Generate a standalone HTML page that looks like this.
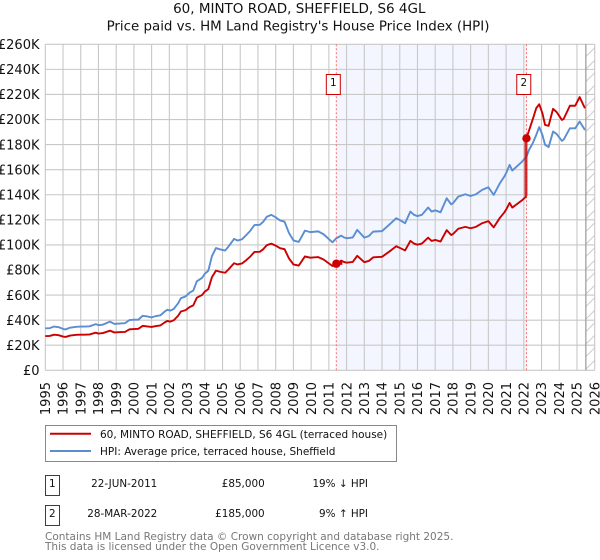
<!DOCTYPE html>
<html>
<head>
<meta charset="utf-8">
<style>
html,body{margin:0;padding:0;background:#fff;}
svg{display:block;font-family:"DejaVu Sans","Liberation Sans",sans-serif;}
</style>
</head>
<body>
<svg id="chart" xmlns="http://www.w3.org/2000/svg" width="600" height="560" viewBox="0 0 600 560">
  <defs>
    <pattern id="hatch" width="12.5" height="12.5" patternUnits="userSpaceOnUse" patternTransform="translate(586 44)">
      <line x1="0" y1="12.5" x2="12.5" y2="0" stroke="#ccc" stroke-width="1"/>
    </pattern>
  </defs>
  <text x="299.3" y="13" font-size="13.5" text-anchor="middle" fill="#111">60, MINTO ROAD, SHEFFIELD, S6 4GL</text>
  <text x="298" y="30.5" font-size="13.4" text-anchor="middle" fill="#111">Price paid vs. HM Land Registry's House Price Index (HPI)</text>
  <g id="plot"></g>

  <g>
    <rect x="45.5" y="425.5" width="351" height="36" fill="#fff" stroke="#888" stroke-width="1"/>
    <line x1="50" y1="433.7" x2="91" y2="433.7" stroke="#cc0000" stroke-width="2"/>
    <text x="100" y="438" font-size="10.5" fill="#111">60, MINTO ROAD, SHEFFIELD, S6 4GL (terraced house)</text>
    <line x1="50" y1="451" x2="91" y2="451" stroke="#5b8dd3" stroke-width="2"/>
    <text x="100" y="455" font-size="10.5" fill="#111">HPI: Average price, terraced house, Sheffield</text>
  </g>

  <g font-size="10.4" fill="#111">
    <rect x="45.5" y="475.5" width="14" height="20" fill="#fff" stroke="#cc0000" stroke-width="1"/>
    <text x="52.3" y="487" text-anchor="middle">1</text>
    <text x="157.3" y="487" text-anchor="end">22-JUN-2011</text>
    <text x="264.7" y="487" text-anchor="end">£85,000</text>
    <text x="368" y="487" text-anchor="end">19% ↓ HPI</text>
    <rect x="45.5" y="505.5" width="14" height="20" fill="#fff" stroke="#cc0000" stroke-width="1"/>
    <text x="52.3" y="517" text-anchor="middle">2</text>
    <text x="157.3" y="517" text-anchor="end">28-MAR-2022</text>
    <text x="264.7" y="517" text-anchor="end">£185,000</text>
    <text x="368" y="517" text-anchor="end">9% ↑ HPI</text>
  </g>

  <text x="45" y="540" font-size="10.5" fill="#777">Contains HM Land Registry data © Crown copyright and database right 2025.</text>
  <text x="45" y="550" font-size="10.5" fill="#777">This data is licensed under the Open Government Licence v3.0.</text>
</svg>
<script>
const yTickValues = [0,20,40,60,80,100,120,140,160,180,200,220,240,260];
const yTickLabels = ["£0","£20K","£40K","£60K","£80K","£100K","£120K","£140K","£160K","£180K","£200K","£220K","£240K","£260K"];
const xTickYears = [1995,1996,1997,1998,1999,2000,2001,2002,2003,2004,2005,2006,2007,2008,2009,2010,2011,2012,2013,2014,2015,2016,2017,2018,2019,2020,2021,2022,2023,2024,2025,2026];
const years = [1995,1995.25,1995.5,1995.75,1996,1996.15,1996.4,1996.75,1997,1997.25,1997.5,1997.85,1998,1998.25,1998.65,1998.9,1999.25,1999.5,1999.75,2000,2000.25,2000.5,2000.75,2001,2001.25,2001.5,2001.75,2001.9,2002.05,2002.25,2002.5,2002.65,2002.9,2003.15,2003.35,2003.55,2003.85,2004,2004.1,2004.2,2004.4,2004.63,2004.85,2005.15,2005.35,2005.65,2005.85,2006.1,2006.35,2006.55,2006.8,2007.1,2007.3,2007.5,2007.75,2008,2008.25,2008.5,2008.75,2009,2009.3,2009.65,2009.95,2010.4,2010.7,2011.2,2011.42,2011.7,2011.85,2012,2012.35,2012.6,2013,2013.25,2013.5,2014,2014.5,2014.8,2015.1,2015.3,2015.6,2015.8,2016,2016.25,2016.6,2016.8,2017,2017.3,2017.65,2017.9,2018,2018.3,2018.7,2019,2019.3,2019.65,2020,2020.3,2020.65,2020.9,2021,2021.2,2021.35,2021.6,2021.9,2022.15,2022.3,2022.5,2022.7,2022.87,2023.05,2023.2,2023.4,2023.65,2023.85,2024.15,2024.25,2024.6,2024.9,2025.15,2025.45];
const hpiValues = [33.5,33.6,34.9,34.4,33,32.6,34,34.7,34.9,34.9,35.1,36.8,36,36.4,38.8,37,37.4,37.6,40.1,40.4,40.4,43.5,43,42.2,43.3,43.9,47,48.3,47.6,49,53.5,57.5,58.8,62,63.6,71,73.8,77,78.2,79.5,91,97.5,96.5,95.5,99,104.8,103.5,104.5,108,111,115.8,116,118.5,122.5,124,122,119.5,118.5,109.5,103.6,102.4,111.4,110.2,110.8,108.5,102.1,105.3,107.4,106,105.3,106,112,105.8,107,110.6,111,117.3,121.3,119,117.3,126.6,124,123,124,129.8,126.6,127.6,126,137.2,132.4,133.2,138.5,140.4,139,140.4,143.9,146,139.9,149.2,154.5,157.2,163.8,159.3,162.5,166.4,170.4,176,181,187.7,194,187.7,179.8,178,190.4,188.5,183,184,193,193,198.4,191.7];
const priceBeforeSale = [27.3,27.4,28.4,28,26.9,26.6,27.7,28.3,28.4,28.4,28.6,30,29.3,29.7,31.6,30.2,30.5,30.6,32.7,32.9,33.1,35.5,35,34.6,35.3,35.8,38.3,39.4,38.8,39.9,43.6,46.9,47.9,50.5,51.8,57.9,60.1,62.8,63.7,64.8,74.2,79.5,78.6,77.8,80.7,85.4,84.4,85.2,88,90.5,94.4,94.5,96.6,99.8,101,99.4,97.4,96.6,89.2,84.4,83.5,90.8,89.8,90.3,88.4,83.2,85,87.5,86.4,85.8,86.4,91.3,86.2,87.2,90.1,90.5,95.6,98.9,97,95.6,103.2,101.1,100.2,101.1,105.8,103.2,104,102.7,111.8,107.9,108.6,112.9,114.4,113.3,114.4,117.3,119,114,121.6,125.9,128.1,133.5,129.8,132.4,135.6,138.9];
const priceAfterSale = [185,191.5,200,209,212.2,205,195.7,195,208.5,206,199.7,200.5,211,211,217.9,209];
const saleLabels = ["1","2"];
const saleYears = [2011.42,2022.15];
const salePrices = [85,185];
const forecastStartYear = 2025.5;

const svgNS = "http://www.w3.org/2000/svg";
const plot = document.getElementById("plot");
const left = 45.3, right = 594.7, top0 = 44.3, bottom = 370.3;
const xMin = 1995, xMax = 2026, yMax = 260;
function xScale(year){ return left + (year - xMin) / (xMax - xMin) * (right - left); }
function yScale(value){ return bottom - value / yMax * (bottom - top0); }
function make(tag, attrs, text){
  const el = document.createElementNS(svgNS, tag);
  for (const k in attrs) el.setAttribute(k, attrs[k]);
  if (text !== undefined) el.textContent = text;
  plot.appendChild(el);
  return el;
}
function pathFrom(xs, vs){
  return vs.map((v, i) => (i ? "L" : "M") + xScale(xs[i]).toFixed(2) + " " + yScale(v).toFixed(2)).join(" ");
}

/* shaded ownership period */
const shade = make("rect", {x: xScale(saleYears[0]), y: top0, width: xScale(saleYears[1]) - xScale(saleYears[0]), height: bottom - top0, fill: "#f3f6fe"});



/* hatched region */
const hatch = make("rect", {x: xScale(forecastStartYear), y: top0, width: right - xScale(forecastStartYear), height: bottom - top0, fill: "url(#hatch)"});



/* grid + labels */
yTickValues.forEach((v, i) => {
  const g = make("line", {x1: left, x2: right, y1: yScale(v), y2: yScale(v), stroke: "#c8c8c8", "stroke-width": 1.1});
  
  
  const t = make("text", {x: 39.5, y: yScale(v) + 4.7, "font-size": 13, "text-anchor": "end", fill: "#111"}, yTickLabels[i]);
  
  
});
xTickYears.forEach((yr) => {
  const x = xScale(yr);
  const g = make("line", {x1: x, x2: x, y1: top0, y2: bottom, stroke: "#c8c8c8", "stroke-width": 1.1});
  
  
  const t = make("text", {x: 0, y: 0, "font-size": 13, "text-anchor": "end", fill: "#111", transform: "translate(" + (x + 4.7) + " 382) rotate(-90)"}, String(yr));
  
  
});

/* end-of-data line */
const endLine = make("line", {x1: xScale(forecastStartYear), x2: xScale(forecastStartYear), y1: top0, y2: bottom, stroke: "#999", "stroke-width": 1.2});



/* sale date markers */
saleYears.forEach((yr) => {
  const x = xScale(yr);
  const d = make("line", {x1: x, x2: x, y1: top0, y2: bottom, stroke: "#ff6b6b", "stroke-width": 1, "stroke-dasharray": "2 2"});
  
  
});

/* series */
const hpiLine = make("path", {d: pathFrom(years, hpiValues), fill: "none", stroke: "#5b8dd3", "stroke-width": 1.9, "stroke-linejoin": "round"});



const nBefore = priceBeforeSale.length;
const priceLine1 = make("path", {d: pathFrom(years.slice(0, nBefore), priceBeforeSale), fill: "none", stroke: "#cc0000", "stroke-width": 1.9, "stroke-linejoin": "round"});


const priceLine2 = make("path", {d: pathFrom(years.slice(nBefore - 1), priceAfterSale), fill: "none", stroke: "#cc0000", "stroke-width": 1.9, "stroke-linejoin": "round"});


const jump = make("line", {x1: xScale(saleYears[1]) - 0.5, x2: xScale(saleYears[1]) - 0.5, y1: yScale(priceBeforeSale[nBefore - 1]), y2: yScale(priceAfterSale[0]), stroke: "#cc0000", "stroke-width": 3, "stroke-opacity": 0.8});



/* sale markers */
const blob = make("line", {x1: xScale(saleYears[0]) - 3, x2: xScale(saleYears[0]) + 6, y1: yScale(salePrices[0]) - 0.5, y2: yScale(salePrices[0]) - 1, stroke: "#cc0000", "stroke-width": 4});


saleYears.forEach((yr, i) => {
  const c = make("circle", {cx: xScale(yr), cy: yScale(salePrices[i]), r: 4.2, fill: "#cc0000"});
  
  
  const bx = xScale(yr) - (i === 0 ? 10 : 9.7);
  const r = make("rect", {x: bx, y: 74.5, width: 14, height: 20, fill: "#fff", stroke: "#cc0000", "stroke-width": 1});
  
  
  const t = make("text", {x: bx + 7, y: 86, "font-size": 10.4, "text-anchor": "middle", fill: "#111"}, saleLabels[i]);
  
  
});
</script>
</body>
</html>
